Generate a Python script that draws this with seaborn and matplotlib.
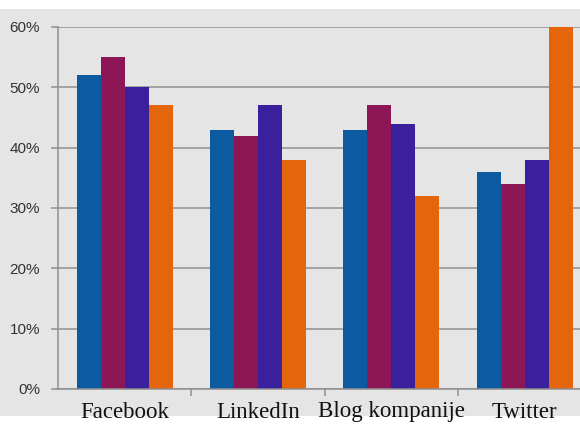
import matplotlib
matplotlib.use("Agg")
import matplotlib.pyplot as plt
import seaborn as sns
import pandas as pd
from matplotlib.patches import Rectangle
from matplotlib.ticker import PercentFormatter

categories = ["Facebook", "LinkedIn", "Blog kompanije", "Twitter"]
series_names = ["S1", "S2", "S3", "S4"]
s1 = [0.52, 0.43, 0.43, 0.36]
s2 = [0.55, 0.42, 0.47, 0.34]
s3 = [0.50, 0.47, 0.44, 0.38]
s4 = [0.47, 0.38, 0.32, 0.60]
colors = ["#0c5aa0", "#8c1656", "#3a209c", "#e4650c"]

rows = []
for name, vals in zip(series_names, [s1, s2, s3, s4]):
    for c, v in zip(categories, vals):
        rows.append({"cat": c, "series": name, "value": v})
df = pd.DataFrame(rows)

sns.set_theme(style="white")
bg = "#e5e5e5"
fig = plt.figure(figsize=(5.8, 4.26), dpi=100, facecolor=bg)
ax = fig.add_axes([58/580, 1-389/426, (4*133.3)/580, (389-27)/426])
ax.set_facecolor(bg)

sns.barplot(data=df, x="cat", y="value", hue="series", order=categories,
            hue_order=series_names, palette=colors, width=0.72, gap=0,
            saturation=1, legend=False, ax=ax, linewidth=0, edgecolor="none")

ax.set_xlim(-0.5, 3.5)
ax.set_ylim(0, 0.6)
ax.set_yticks([0, 0.1, 0.2, 0.3, 0.4, 0.5, 0.6])
ax.yaxis.set_major_formatter(PercentFormatter(1.0, decimals=0))
ax.grid(axis="y", color="#8f8f8f", linewidth=1.1)
ax.set_axisbelow(True)
for s in ["top", "right"]:
    ax.spines[s].set_visible(False)
for s in ["left", "bottom"]:
    ax.spines[s].set_color("#8f8f8f")
    ax.spines[s].set_linewidth(1.1)
ax.set_xlabel("")
ax.set_ylabel("")

ax.tick_params(axis="y", which="major", length=5, width=1.1, color="#8f8f8f",
               pad=8, labelsize=11, labelcolor="#333333", left=True)
for lab in ax.get_yticklabels():
    lab.set_fontfamily("Liberation Sans")
ax.set_xticks([0.5, 1.5, 2.5], minor=True)
ax.tick_params(axis="x", which="major", length=0, pad=9, labelsize=16.5,
               labelcolor="#111111")
ax.tick_params(axis="x", which="minor", length=5, width=1.1, color="#8f8f8f",
               bottom=True)
for lab in ax.get_xticklabels():
    lab.set_fontfamily("Liberation Serif")

fig.patches.append(Rectangle((0, 1-9/426), 1, 9/426, transform=fig.transFigure,
                             facecolor="white", edgecolor="none", zorder=-1))
fig.patches.append(Rectangle((0, 0), 1, 10/426, transform=fig.transFigure,
                             facecolor="white", edgecolor="none", zorder=-1))

fig.savefig("out.png", dpi=100, facecolor=bg)
